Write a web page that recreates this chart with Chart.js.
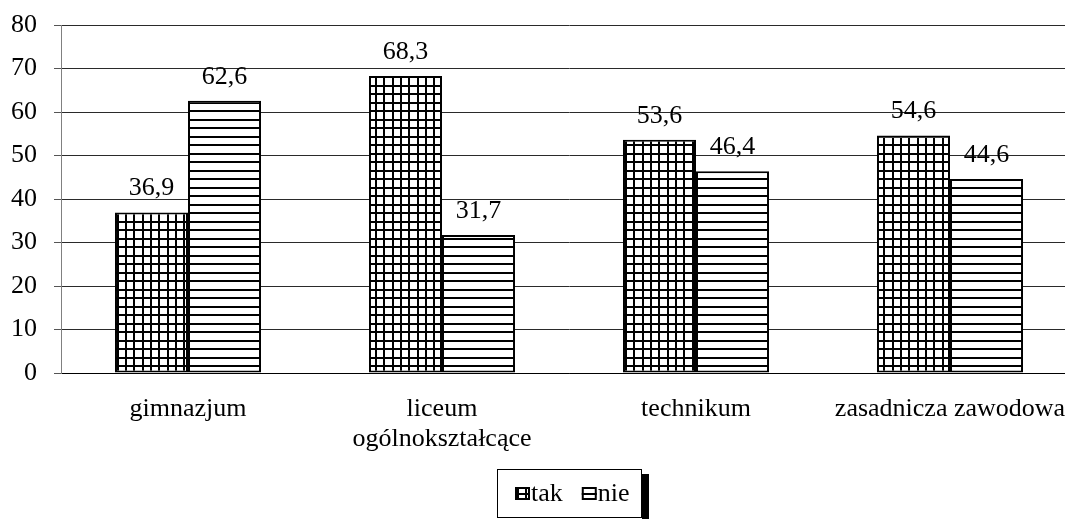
<!DOCTYPE html>
<html>
<head>
<meta charset="utf-8">
<script src="https://cdn.jsdelivr.net/npm/chart.js@4/dist/chart.umd.min.js"></script>
<style>
  html, body { margin: 0; padding: 0; overflow: hidden; background: #fff; }
  canvas { display: block; }
</style>
</head>
<body>
<canvas id="chart" width="1077" height="519" style="width:1077px;height:519px"></canvas>
<script>
// Survey answers by school type (percent)
const categories = ['gimnazjum', ['liceum', 'ogólnokształcące'], 'technikum', 'zasadnicza zawodowa'];
const seriesNames = ['tak', 'nie'];
const takValues = [36.9, 68.3, 53.6, 54.6];
const nieValues = [62.6, 31.7, 46.4, 44.6];
const yTicks = [0, 10, 20, 30, 40, 50, 60, 70, 80];

const FONT = "'Liberation Serif', 'Times New Roman', serif";

// Fill patterns: a square grid for "tak", horizontal stripes for "nie"
function gridPattern() {
  const c = document.createElement('canvas');
  c.width = 25; c.height = 17;
  const g = c.getContext('2d');
  g.fillStyle = '#fff'; g.fillRect(0, 0, c.width, c.height);
  g.fillStyle = '#000';
  [0, 8, 17].forEach(x => g.fillRect(x, 0, 2, c.height));
  [0, 8].forEach(y => g.fillRect(0, y, c.width, 2));
  return g.createPattern(c, 'repeat');
}
function stripePattern() {
  const c = document.createElement('canvas');
  c.width = 4; c.height = 17;
  const g = c.getContext('2d');
  g.fillStyle = '#fff'; g.fillRect(0, 0, c.width, c.height);
  g.fillStyle = '#000';
  [0, 8].forEach(y => g.fillRect(0, y, c.width, 2));
  return g.createPattern(c, 'repeat');
}

const fmt = v => v.toFixed(1).replace('.', ',');

// Value above each bar
const valueLabels = {
  id: 'valueLabels',
  afterDatasetsDraw(chart) {
    const ctx = chart.ctx;
    ctx.save();
    ctx.font = '26px ' + FONT;
    ctx.fillStyle = '#000';
    ctx.textAlign = 'center';
    ctx.textBaseline = 'alphabetic';
    chart.data.datasets.forEach((ds, i) => {
      chart.getDatasetMeta(i).data.forEach((bar, j) => {
        ctx.fillText(fmt(ds.data[j]), bar.x, bar.y - 17);
      });
    });
    ctx.restore();
  }
};

// Framed legend with a drop shadow, centred under the plot
const boxedLegend = {
  id: 'boxedLegend',
  afterDraw(chart) {
    const ctx = chart.ctx, area = chart.chartArea;
    ctx.save();
    ctx.font = '26px ' + FONT;
    const sw = 15, sh = 13, gapText = 1, gapItem = 19, padL = 18, padR = 12;
    const items = chart.data.datasets.map(ds => ({
      label: ds.label, fill: ds.backgroundColor, w: ctx.measureText(ds.label).width
    }));
    let total = padL + padR;
    items.forEach((it, k) => { total += sw + gapText + it.w + (k ? gapItem : 0); });
    total = Math.round(total);
    const left = Math.round((area.left + area.right) / 2 - total / 2);
    const top = 469, h = 48;
    ctx.fillStyle = '#000';
    ctx.fillRect(left + total, top + 5, 7, h + 6);
    ctx.fillStyle = '#fff';
    ctx.fillRect(left, top, total, h);
    ctx.strokeStyle = '#000';
    ctx.lineWidth = 1;
    ctx.strokeRect(left + 0.5, top + 0.5, total - 1, h);
    let x = left + padL;
    items.forEach(it => {
      ctx.fillStyle = it.fill;
      ctx.fillRect(x, top + 18, sw, sh);
      ctx.lineWidth = 2;
      ctx.strokeRect(x + 1, top + 19, sw - 2, sh - 2);
      ctx.fillStyle = '#000';
      ctx.textAlign = 'left';
      ctx.textBaseline = 'alphabetic';
      ctx.fillText(it.label, x + sw + gapText, top + 32);
      x += sw + gapText + it.w + gapItem;
    });
    ctx.restore();
  }
};

const tak = gridPattern();
const nie = stripePattern();

new Chart(document.getElementById('chart'), {
  type: 'bar',
  data: {
    labels: categories,
    datasets: [
      { label: seriesNames[0], data: takValues, backgroundColor: tak, borderColor: '#000', borderWidth: 2, borderSkipped: false },
      { label: seriesNames[1], data: nieValues, backgroundColor: nie, borderColor: '#000', borderWidth: 2, borderSkipped: false }
    ]
  },
  options: {
    responsive: false,
    animation: false,
    events: [],
    layout: { padding: { top: 25, right: 0, bottom: 50, left: 0 } },
    datasets: { bar: { categoryPercentage: 0.575, barPercentage: 1.0 } },
    plugins: { legend: { display: false }, tooltip: { enabled: false } },
    scales: {
      x: {
        grid: { display: false, drawTicks: false },
        border: { display: true, color: '#000', width: 1 },
        ticks: {
          color: '#000', padding: 22, maxRotation: 0, autoSkip: false,
          font: { family: FONT, size: 26, lineHeight: 1.12 }
        },
        afterFit(scale) {
          scale.height = 96;
          scale.paddingLeft = 0; scale.paddingRight = 0;
        }
      },
      y: {
        min: 0, max: 80,
        afterBuildTicks(scale) { scale.ticks = yTicks.map(v => ({ value: v })); },
        grid: { color: '#2a2a2a', lineWidth: 1, tickLength: 7, tickColor: '#555' },
        border: { display: true, color: '#808080', width: 1 },
        ticks: {
          color: '#000', padding: 17,
          font: { family: FONT, size: 26 }
        },
        afterFit(scale) {
          scale.width = 61;
          scale.paddingTop = 0; scale.paddingBottom = 0;
        }
      }
    }
  },
  plugins: [valueLabels, boxedLegend]
});
</script>
</body>
</html>
